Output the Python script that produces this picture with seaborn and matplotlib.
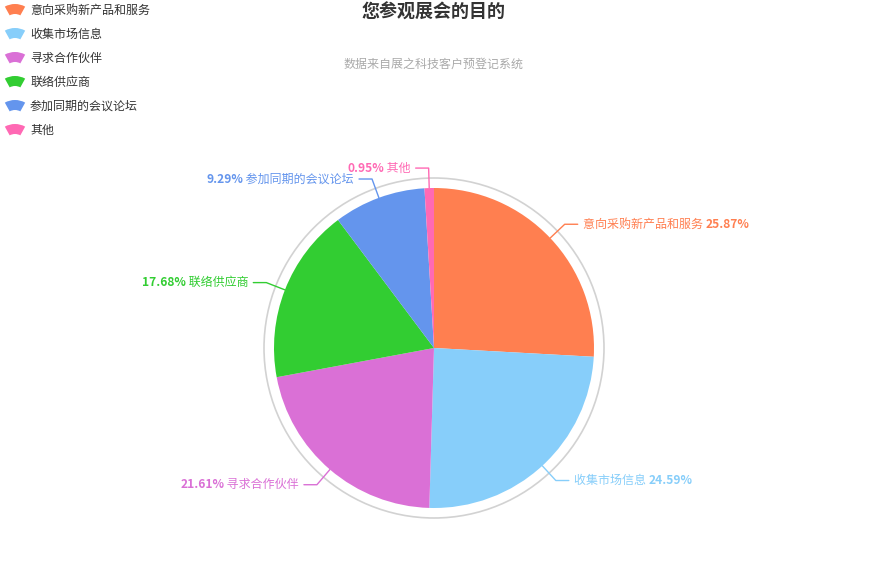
import numpy as np
import matplotlib.pyplot as plt
import seaborn as sns
from matplotlib.patches import Wedge, Circle

# ---------------------- Data ----------------------------------------------------------
categories = ['意向采购新产品和服务', '收集市场信息', '寻求合作伙伴', '联络供应商', '参加同期的会议论坛', '其他']
percents = [25.87, 24.59, 21.61, 17.68, 9.29, 0.95]
colors = ['#FF7F50', '#87CEFA', '#DA70D6', '#32CD32', '#6495ED', '#FF69B4']

title = '您参观展会的目的'
subtitle = '数据来自展之科技客户预登记系统'

sns.set_theme(style='white')
plt.rcParams['font.family'] = ['Noto Sans CJK SC', 'DejaVu Sans']

W, H = 870, 580
fig = plt.figure(figsize=(W / 100, H / 100), dpi=100)
ax = fig.add_axes([0, 0, 1, 1])


def py(y):
    # pixel y (from top) -> data y
    return H - y


cx, cy, r = 434, py(348), 160
px = 12 * 72 / 100  # 12px in points

# pie
wedges, _ = ax.pie(percents, colors=colors, startangle=90, counterclock=False,
                   center=(cx, cy), radius=r, frame=True,
                   wedgeprops=dict(linewidth=0))
ax.set_xlim(0, W)
ax.set_ylim(0, H)
ax.set_aspect('equal')
ax.axis('off')

# outer ring
ax.add_patch(Circle((cx, cy), 170, fill=False, edgecolor='#d2d2d2', linewidth=1.2))

# labels with leader lines
fig.canvas.draw()
renderer = fig.canvas.get_renderer()
inv = ax.transData.inverted()

for w, name, pct, col in zip(wedges, categories, percents, colors):
    ang = np.deg2rad((w.theta1 + w.theta2) / 2)
    x0, y0 = cx + r * np.cos(ang), cy + r * np.sin(ang)
    x1, y1 = cx + 180 * np.cos(ang), cy + 180 * np.sin(ang)
    side = 1 if np.cos(ang) >= 0 else -1
    x2 = x1 + side * 13
    ax.plot([x0, x1, x2], [y0, y1, y1], color=col, linewidth=1)
    tx = x2 + side * 5
    pct_txt = '%.2f%%' % pct
    if side > 0:
        t1 = ax.text(tx, y1, name + ' ', color=col, fontsize=px, ha='left', va='center')
        bb = t1.get_window_extent(renderer)
        xe = inv.transform((bb.x1, 0))[0]
        ax.text(xe, y1, pct_txt, color=col, fontsize=px, fontweight='bold', ha='left', va='center')
    else:
        t1 = ax.text(tx, y1, ' ' + name, color=col, fontsize=px, ha='right', va='center')
        bb = t1.get_window_extent(renderer)
        xe = inv.transform((bb.x0, 0))[0]
        ax.text(xe, y1, pct_txt, color=col, fontsize=px, fontweight='bold', ha='right', va='center')

# legend with fan icons
for i, (name, col) in enumerate(zip(categories, colors)):
    ly = 10 + 24 * i
    ax.add_patch(Wedge((15, py(ly) - 15), 21, 61, 119, width=10, facecolor=col, edgecolor='none'))
    ax.text(30, py(ly), name, color='#333333', fontsize=px, ha='left', va='center')

# titles
ax.text(434, py(13), title, color='#333333', fontsize=18 * 72 / 100, fontweight='bold',
        ha='center', va='center')
ax.text(434, py(64), subtitle, color='#aaaaaa', fontsize=px, ha='center', va='center')

fig.savefig('out.png', dpi=100)
